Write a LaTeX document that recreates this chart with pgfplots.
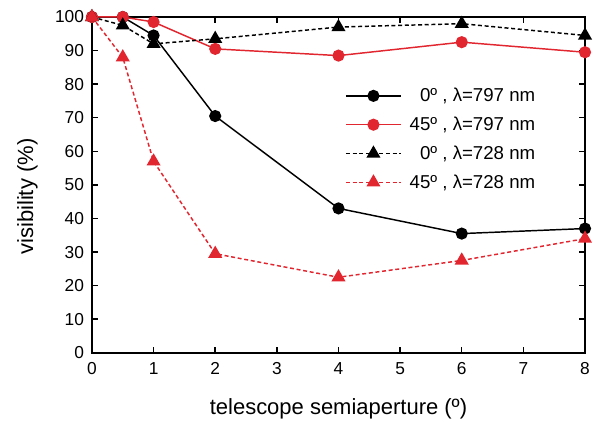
\documentclass[border=0pt]{standalone}
\usepackage{pgfplots}
\pgfplotsset{compat=1.18}
\usepackage{fontspec}
\setmainfont{Liberation Sans}
\definecolor{myred}{RGB}{226,38,48}
\begin{document}
\begin{tikzpicture}
\begin{axis}[
  width=370pt, height=252pt, scale only axis,
  xmin=0, xmax=8, ymin=0, ymax=100,
  xtick={0,1,...,8}, ytick={0,10,...,100},
  tick align=inside, major tick length=4.5pt,
  axis line style={line width=1.4pt},
  every tick/.style={line width=1.1pt, black},
  tick label style={font=\fontsize{13}{15}\selectfont},
  xticklabel style={yshift=-4pt},
  yticklabel style={xshift=-2.5pt},
  /pgf/number format/assume math mode=true,
  xlabel={telescope semiaperture (º)},
  ylabel={visibility (\%)},
  every axis x label/.style={at={(axis description cs:0.5,0)}, yshift=-42pt, anchor=center, font=\fontsize{16.5}{19}\selectfont},
  every axis y label/.style={at={(axis description cs:0,0.465)}, xshift=-48.5pt, rotate=90, anchor=center, font=\fontsize{16.5}{19}\selectfont},
  legend style={draw=none, fill=none, inner sep=0pt, at={(0.905,0.797)}, anchor=north east,
    font=\fontsize{14}{16}\selectfont, row sep=6pt, column sep=4pt},
  legend cell align=right,
  legend image code/.code={
    \draw[#1] (0cm,0cm) -- (1.45cm,0cm);
    \draw[#1] plot coordinates {(0.725cm,0cm)};
  },
]
\addplot[black, line width=1.1pt, mark=*, mark size=4pt, mark options={solid}]
  coordinates {(0,100) (0.5,100) (1,94.5) (2,70.5) (4,43) (6,35.5) (8,37)};
\addlegendentry{0º , λ=797 nm}
\addplot[myred, line width=1.1pt, mark=*, mark size=4pt, mark options={solid}]
  coordinates {(0,100) (0.5,100) (1,98.5) (2,90.5) (4,88.5) (6,92.5) (8,89.5)};
\addlegendentry{45º , λ=797 nm}
\addplot[black, line width=1.1pt, dash pattern=on 3pt off 2pt, mark=triangle*, mark size=5pt, mark options={solid}]
  coordinates {(0,100) (0.5,97.5) (1,92) (2,93.5) (4,97) (6,98) (8,94.5)};
\addlegendentry{0º , λ=728 nm}
\addplot[myred, line width=1.1pt, dash pattern=on 3pt off 2pt, mark=triangle*, mark size=5pt, mark options={solid}]
  coordinates {(0,100) (0.5,88) (1,57) (2,29.5) (4,22.5) (6,27.5) (8,34)};
\addlegendentry{45º , λ=728 nm}
\end{axis}
\pgfresetboundingbox
\path ([shift={(-69pt,-52.5pt)}]current axis.south west) rectangle ([shift={(8.25pt,12.75pt)}]current axis.north east);
\end{tikzpicture}
\end{document}
